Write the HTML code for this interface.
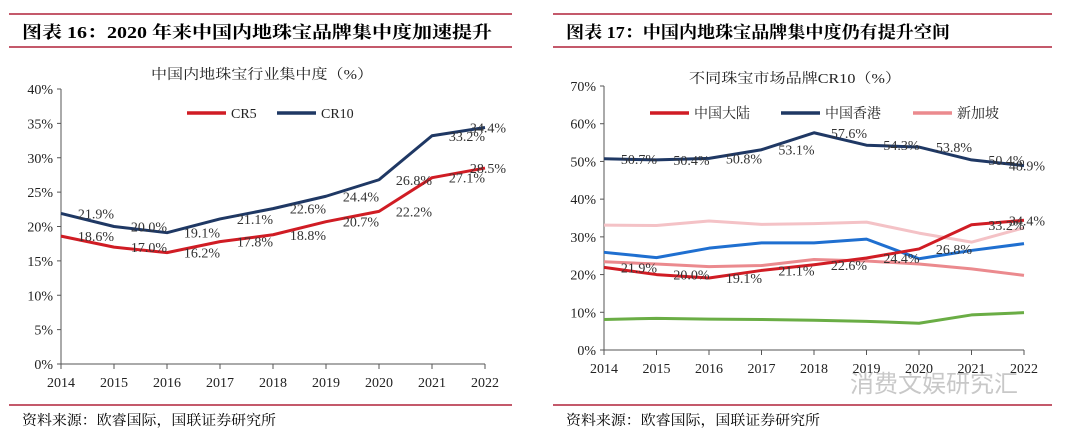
<!DOCTYPE html>
<html><head><meta charset="utf-8"><style>
body{margin:0;background:#fff;}
svg{display:block;font-family:"Liberation Serif","Noto Serif CJK SC",serif;}
</style></head><body>
<svg id="s" width="1080" height="433" viewBox="0 0 1080 433" xmlns="http://www.w3.org/2000/svg">
<g>
<line x1="9" y1="14" x2="512" y2="14" stroke="#b0223a" stroke-width="1.5"/>
<line x1="9" y1="47" x2="512" y2="47" stroke="#b0223a" stroke-width="1.5"/>
<text x="22" y="38" font-size="17" font-weight="bold" textLength="470" lengthAdjust="spacingAndGlyphs">图表 16：2020 年来中国内地珠宝品牌集中度加速提升</text>
<text x="262" y="79" font-size="14" text-anchor="middle" fill="#222" textLength="222" lengthAdjust="spacingAndGlyphs">中国内地珠宝行业集中度（%）</text>
<line x1="9" y1="405" x2="512" y2="405" stroke="#b0223a" stroke-width="1.5"/>
<text x="22" y="425" font-size="14" textLength="254" lengthAdjust="spacingAndGlyphs">资料来源：欧睿国际，国联证券研究所</text>
</g>
<g>
<line x1="553" y1="14" x2="1052" y2="14" stroke="#b0223a" stroke-width="1.5"/>
<line x1="553" y1="47" x2="1052" y2="47" stroke="#b0223a" stroke-width="1.5"/>
<text x="566" y="38" font-size="17" font-weight="bold" textLength="384" lengthAdjust="spacingAndGlyphs">图表 17：中国内地珠宝品牌集中度仍有提升空间</text>
<text x="795" y="83" font-size="14" text-anchor="middle" fill="#222" textLength="212" lengthAdjust="spacingAndGlyphs">不同珠宝市场品牌CR10（%）</text>
<line x1="553" y1="405" x2="1052" y2="405" stroke="#b0223a" stroke-width="1.5"/>
<text x="566" y="425" font-size="14" textLength="254" lengthAdjust="spacingAndGlyphs">资料来源：欧睿国际，国联证券研究所</text>
<text x="850" y="392" font-size="24" fill="#c8c8c8" font-family="Liberation Sans,Noto Sans CJK SC,sans-serif">消费文娱研究汇</text>
</g>
</svg>
<script>
const years=['2014','2015','2016','2017','2018','2019','2020','2021','2022'];
const leftTicks=[0,5,10,15,20,25,30,35,40];
const cr5=[18.6,17.0,16.2,17.8,18.8,20.7,22.2,27.1,28.5];
const cr10=[21.9,20.0,19.1,21.1,22.6,24.4,26.8,33.2,34.4];
const rightTicks=[0,10,20,30,40,50,60,70];
const mainland=[21.9,20.0,19.1,21.1,22.6,24.4,26.8,33.2,34.4];
const hongkong=[50.7,50.4,50.8,53.1,57.6,54.3,53.8,50.4,48.9];
const singapore=[23.4,22.8,22.1,22.4,24.0,23.6,22.8,21.5,19.8];
const seriesLightPink=[33.1,33.0,34.2,33.3,33.5,33.9,31.0,28.6,32.4];
const seriesBlue=[25.9,24.5,27.0,28.4,28.4,29.4,24.2,26.4,28.2];
const seriesGreen=[8.1,8.4,8.2,8.1,7.9,7.6,7.1,9.3,9.9];
const NS='http://www.w3.org/2000/svg';
const svg=document.getElementById('s');
function mk(tag,attrs,parent){const e=document.createElementNS(NS,tag);for(const k in attrs)e.setAttribute(k,attrs[k]);(parent||svg).appendChild(e);return e;}
function chart(cfg){
  const g=mk('g',{});
  
  
  const xs=i=>cfg.x0+(cfg.x1-cfg.x0)*i/(years.length-1);
  const ys=v=>cfg.y0-(cfg.y0-cfg.y1)*v/cfg.max;
  const ax=mk('line',{x1:cfg.x0,y1:ys(cfg.max),x2:cfg.x0,y2:cfg.y0,stroke:'#555','stroke-width':1},g);
  
  
  const bx=mk('line',{x1:cfg.x0,y1:cfg.y0,x2:cfg.x1,y2:cfg.y0,stroke:'#555','stroke-width':1},g);
  
  
  cfg.ticks.forEach(t=>{
    mk('line',{x1:cfg.x0-4,y1:ys(t),x2:cfg.x0,y2:ys(t),stroke:'#555'},g);
    const tx=mk('text',{x:cfg.x0-8,y:ys(t)+5,'font-size':14,'text-anchor':'end',fill:'#222'},g);
    tx.textContent=t+'%';
    
    
  });
  years.forEach((y,i)=>{
    mk('line',{x1:xs(i),y1:cfg.y0,x2:xs(i),y2:cfg.y0+5,stroke:'#555'},g);
    const tx=mk('text',{x:xs(i),y:cfg.y0+23,'font-size':14,'text-anchor':'middle',fill:'#222'},g);
    tx.textContent=y;
    
    
  });
  cfg.series.forEach(s=>{
    const p=mk('polyline',{points:s.data.map((v,i)=>xs(i)+','+ys(v)).join(' '),fill:'none',stroke:s.color,'stroke-width':3,'stroke-linejoin':'round'},g);
    
    
  });
  cfg.series.forEach(s=>{
    if(!s.labels)return;
    s.data.forEach((v,i)=>{
      const last=i===years.length-1;
      const t=mk('text',{x:xs(i)+(last?3:35),y:ys(v)+5,'font-size':14,'text-anchor':'middle',fill:'#333'},g);
      t.textContent=v.toFixed(1)+'%';
      
      
    });
  });
  cfg.legend.forEach(l=>{
    const lg=mk('g',{},g);
    
    
    mk('line',{x1:l.x,y1:cfg.ly,x2:l.x+39,y2:cfg.ly,stroke:l.color,'stroke-width':3.5},lg);
    const t=mk('text',{x:l.x+44,y:cfg.ly+5,'font-size':14,fill:'#222'},lg);
    t.textContent=l.text;
  });
}
chart({name:'left-chart',x0:61,x1:485,y0:364,y1:89,max:40,ticks:leftTicks,ly:113,
  series:[{key:'cr5',data:cr5,color:'#d01c24',labels:true},{key:'cr10',data:cr10,color:'#1f3864',labels:true}],
  legend:[{key:'cr5',x:187,color:'#d01c24',text:'CR5'},{key:'cr10',x:277,color:'#1f3864',text:'CR10'}]});
chart({name:'right-chart',x0:604,x1:1024,y0:350,y1:86,max:70,ticks:rightTicks,ly:113,
  series:[
    {key:'light-pink',data:seriesLightPink,color:'#f4c2c6'},
    {key:'blue',data:seriesBlue,color:'#1f6fd0'},
    {key:'singapore',data:singapore,color:'#eb8a8e'},
    {key:'green',data:seriesGreen,color:'#6aad45'},
    {key:'hongkong',data:hongkong,color:'#1f3864',labels:true},
    {key:'mainland',data:mainland,color:'#d01c24',labels:true}],
  legend:[{key:'mainland',x:650,color:'#d01c24',text:'中国大陆'},{key:'hongkong',x:781,color:'#1f3864',text:'中国香港'},{key:'singapore',x:913,color:'#eb8a8e',text:'新加坡'}]});
</script>
</body></html>
